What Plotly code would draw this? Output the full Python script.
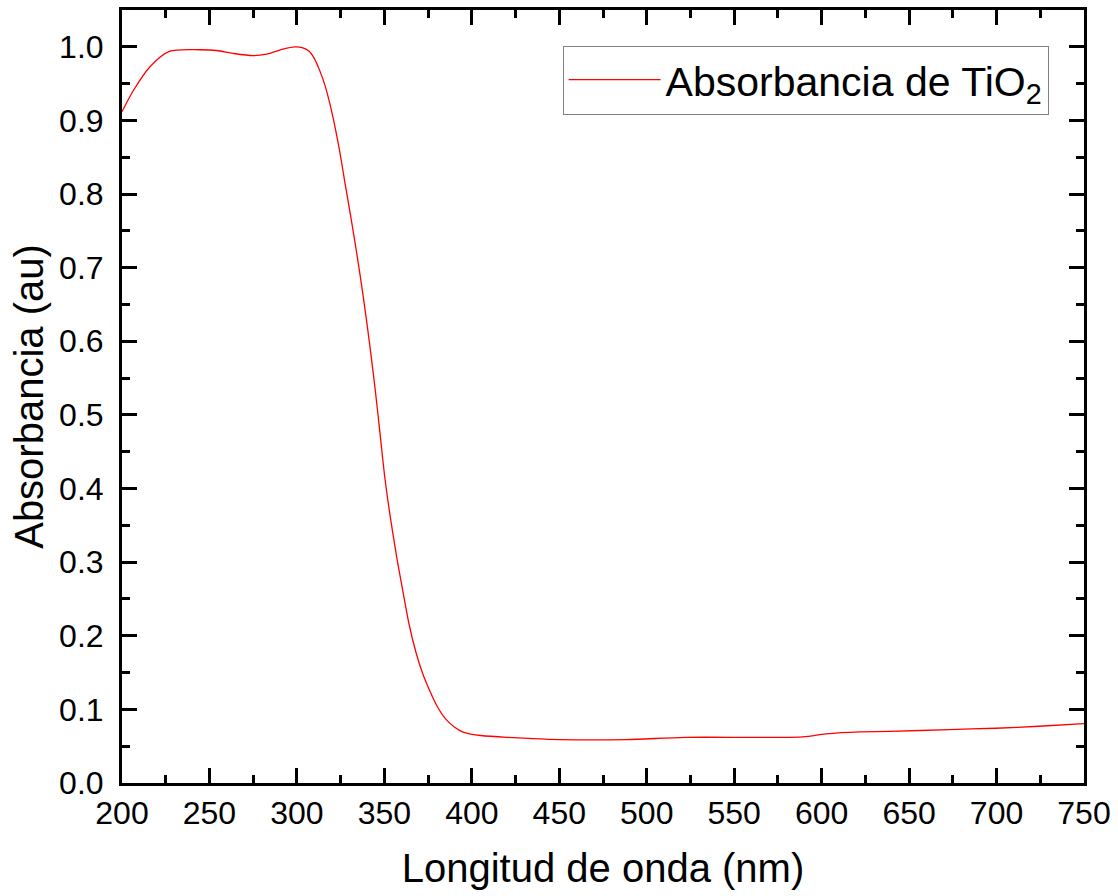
import plotly.graph_objects as go

wavelength = [200, 206.6, 216, 227.4, 244.5, 254, 263.6, 275, 282.6, 292.1, 298.8, 303,
              307, 310, 313, 316, 320, 324, 328, 332, 336, 340, 344, 346, 348, 350,
              352, 354, 356, 358, 360, 364, 368, 372, 376, 380, 385, 390, 395, 400,
              405, 420, 433, 450, 488, 522, 589, 602.4, 621.5, 638.6, 672.9, 699.5, 724.3, 750]
absorbance = [0.912, 0.941, 0.973, 0.994, 0.996, 0.995, 0.991, 0.988, 0.990, 0.997, 1.000, 0.999,
              0.994, 0.984, 0.968, 0.948, 0.911, 0.864, 0.808, 0.752, 0.692, 0.625, 0.550, 0.508, 0.464, 0.420,
              0.384, 0.352, 0.322, 0.294, 0.268, 0.217, 0.178, 0.148, 0.125, 0.105, 0.087, 0.076, 0.069, 0.066,
              0.0645, 0.062, 0.0605, 0.059, 0.059, 0.062, 0.0627, 0.0668, 0.0695, 0.0700, 0.0726, 0.0744, 0.0771, 0.0807]

series_name = "Absorbancia de TiO<sub>2</sub>"
x_title = "Longitud de onda (nm)"
y_title = "Absorbancia (au)"

FONT = "Liberation Sans, Arial, sans-serif"

fig = go.Figure()
fig.add_trace(go.Scatter(
    x=wavelength, y=absorbance, mode="lines", name=series_name,
    line=dict(color="#ff0000", width=1.3, shape="spline", smoothing=0.8),
))

axis_common = dict(
    showline=True, linewidth=3, linecolor="black", mirror="ticks",
    ticks="inside", ticklen=15, tickwidth=3, tickcolor="black",
    showgrid=False, zeroline=False,
    tickfont=dict(family=FONT, size=32, color="black"),
    title_font=dict(family=FONT, size=40, color="black"),
)

fig.update_xaxes(
    range=[200, 750], dtick=50, tick0=200,
    minor=dict(dtick=25, ticks="inside", ticklen=8, tickwidth=3, tickcolor="black"),
    title_text=x_title, title_standoff=24,
    **axis_common,
)
fig.update_yaxes(
    range=[0, 1.05], dtick=0.1, tick0=0, tickformat=".1f",
    minor=dict(dtick=0.05, ticks="inside", ticklen=8, tickwidth=3, tickcolor="black"),
    title_text=y_title, title_standoff=4, ticklabelstandoff=9,
    **axis_common,
)

fig.update_layout(
    width=1118, height=896,
    margin=dict(l=122, r=33, t=7, b=113),
    paper_bgcolor="white", plot_bgcolor="white",
    font=dict(family=FONT, color="black"),
    showlegend=True,
    legend=dict(
        x=0.458, y=0.954, xanchor="left", yanchor="top",
        bgcolor="white", bordercolor="#808080", borderwidth=1,
        font=dict(family=FONT, size=41, color="black"),
        itemwidth=92,
    ),
)

fig.write_html("out.html")
